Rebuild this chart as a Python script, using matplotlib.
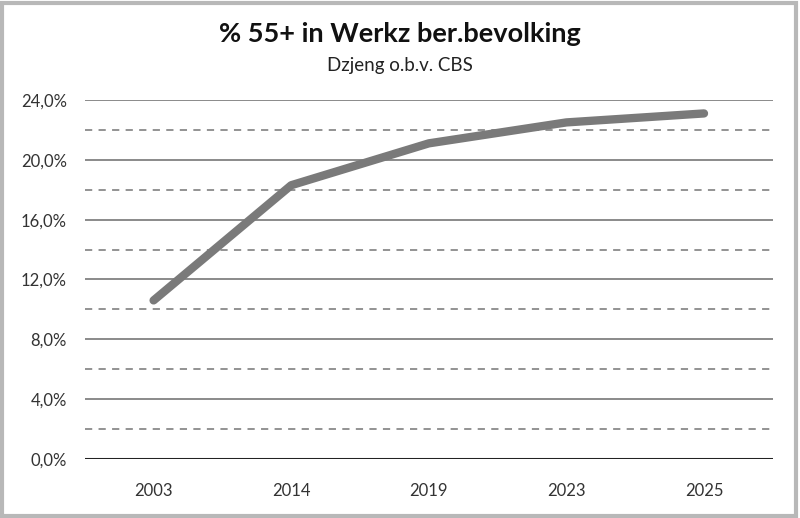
import numpy as np
import matplotlib
matplotlib.use("Agg")
import matplotlib.pyplot as plt
from matplotlib.patches import Rectangle
from matplotlib.ticker import FuncFormatter

# data
years = ["2003", "2014", "2019", "2023", "2025"]
pct_55plus = [10.6, 18.3, 21.1, 22.5, 23.1]

major_ticks = [0, 4, 8, 12, 16, 20, 24]
minor_ticks = [2, 6, 10, 14, 18, 22]

plt.rcParams['font.family'] = ['Lato', 'DejaVu Sans']

fig = plt.figure(figsize=(8.0, 5.18), dpi=100)
ax = fig.add_axes([0.106, 0.114, 0.860, 0.693])

x = np.arange(len(years))

# gridlines
for v in major_ticks[1:]:
    ax.axhline(v, color="#8a8a8a", lw=1.4, zorder=1)
for v in minor_ticks:
    ax.axhline(v, color="#8a8a8a", lw=1.3, ls=(0, (4, 3.5)), zorder=1)
ax.axhline(0, color="#222222", lw=2.2, zorder=2)

ax.plot(x, pct_55plus, color="#7a7a7a", lw=6, solid_capstyle="round",
        solid_joinstyle="round", zorder=3)

ax.set_xlim(-0.5, len(years) - 0.5)
ax.set_ylim(0, 24)
ax.set_xticks(x)
ax.set_xticklabels(years)
ax.set_yticks(major_ticks)
ax.yaxis.set_major_formatter(FuncFormatter(lambda v, p: f"{v:.1f}%".replace(".", ",")))
ax.tick_params(length=0, labelsize=12, colors="#333333")
ax.tick_params(axis="y", pad=13)
ax.tick_params(axis="x", pad=17)
for s in ax.spines.values():
    s.set_visible(False)

fig.text(0.5, 0.935, "% 55+ in Werkz ber.bevolking", ha="center", va="center",
         fontsize=19.5, fontweight="bold", color="#111111")
fig.text(0.5, 0.874, "Dzjeng o.b.v. CBS", ha="center", va="center",
         fontsize=13.5, color="#222222")

# outer frame
fig.patches.append(Rectangle((0.003, 0.004), 0.992, 0.99, transform=fig.transFigure,
                             fill=False, edgecolor="#b8b8b8", lw=3))

fig.savefig("out.png", dpi=100)
